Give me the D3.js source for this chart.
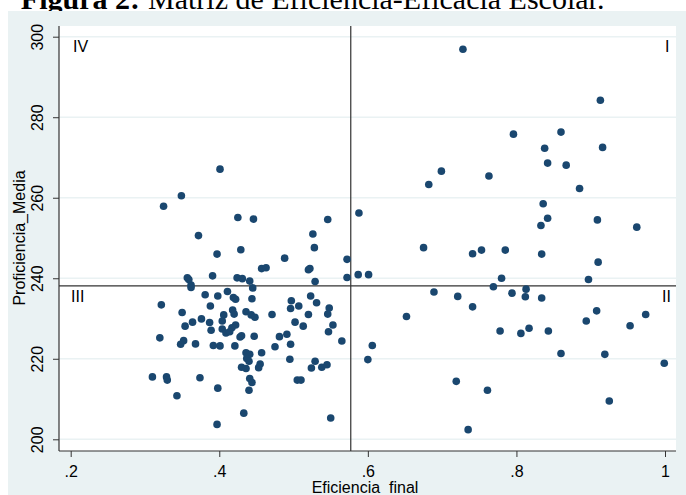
<!DOCTYPE html>
<html>
<head>
<meta charset="utf-8">
<script src="https://cdn.jsdelivr.net/npm/d3@7"></script>
<style>
  html, body { margin: 0; padding: 0; background: #ffffff; }
  svg { display: block; }
</style>
</head>
<body>
<script>
// ---- data ----
const titleBold = "Figura 2:";
const titleRest = "Matriz de Eficiencia-Eficacia Escolar.";
const xLabel = "Eficiencia_final";
const yLabel = "Proficiencia_Media";
const xTicks = [0.2, 0.4, 0.6, 0.8, 1.0];
const xTickLabels = [".2", ".4", ".6", ".8", "1"];
const yTicks = [200, 220, 240, 260, 280, 300];
const quadrantLabels = ["I", "II", "III", "IV"];
const refX = 0.577;
const refY = 238.1;

const eficiencia = [
  0.401,0.349,0.325,0.425,0.446,0.372,0.429,0.397,0.488,0.457,0.463,0.357,0.359,0.391,0.424,0.431,
  0.441,0.362,0.362,0.445,0.381,0.398,0.411,0.419,0.422,0.444,0.322,0.388,0.497,0.496,0.350,0.418,
  0.420,0.406,0.436,0.443,0.448,0.471,0.376,0.364,0.387,0.404,0.354,0.422,0.417,0.389,0.404,0.409,
  0.414,0.320,0.428,0.430,0.447,0.481,0.491,0.352,0.348,0.368,0.392,0.401,0.421,0.475,0.496,0.436,
  0.441,0.437,0.440,0.430,0.436,0.457,0.455,0.453,0.495,0.310,0.329,0.330,0.374,0.441,0.444,0.440,
  0.398,0.343,0.433,0.397,
  0.588,0.546,0.526,0.528,0.572,0.520,0.522,0.572,0.587,0.601,0.529,0.523,0.531,0.507,0.548,0.546,
  0.520,0.502,0.513,0.553,0.547,0.565,0.606,0.529,0.524,0.538,0.545,0.600,0.505,0.510,0.550,
  0.728,0.913,0.796,0.860,0.838,0.916,0.842,0.867,0.699,0.763,0.682,0.885,0.836,0.842,0.833,0.909,
  0.962,0.675,0.741,0.753,0.785,0.834,0.910,0.780,0.897,0.769,0.689,0.721,0.794,0.813,0.812,0.834,
  0.741,0.652,0.908,0.894,0.974,0.953,0.778,0.806,0.817,0.843,0.860,0.919,0.999,0.719,0.761,0.925,
  0.735
];
const proficiencia = [
  267.1,260.5,257.9,255.1,254.7,250.6,247.1,246.0,245.0,242.4,242.6,240.1,239.7,240.6,240.1,239.9,
  239.3,238.3,237.7,237.6,235.9,235.6,236.7,235.2,234.8,234.9,233.4,233.1,234.4,232.5,231.5,232.1,
  231.1,230.9,231.7,230.9,230.3,231.0,229.9,229.1,229.0,229.4,228.1,228.4,227.7,227.1,227.4,226.4,
  226.7,225.2,225.4,225.7,225.6,225.5,226.1,224.5,223.6,223.7,223.3,223.2,223.2,223.0,223.6,221.5,
  221.1,220.1,219.4,217.9,217.6,221.5,218.7,217.8,219.9,215.5,215.5,214.7,215.3,215.1,214.1,212.2,
  212.7,210.8,206.5,203.7,
  256.2,254.6,251.0,247.6,244.7,242.1,242.4,240.2,240.9,240.9,239.2,235.6,233.9,233.1,232.6,231.1,
  231.0,229.1,228.1,228.4,226.7,224.4,223.3,219.4,217.7,217.9,218.5,219.8,214.7,214.7,205.3,
  296.9,284.2,275.8,276.3,272.3,272.5,268.6,268.1,266.6,265.4,263.3,262.3,258.5,254.9,253.1,254.5,
  252.7,247.6,246.1,247.0,247.0,246.0,244.0,240.0,239.7,237.9,236.6,235.5,236.3,237.3,235.4,235.1,
  232.9,230.5,231.9,229.4,231.0,228.2,226.9,226.3,227.6,226.9,221.3,221.1,218.9,214.4,212.2,209.5,
  202.4
];

// ---- layout ----
const W = 686, H = 495;
const plot = { left: 59, right: 676, top: 26, bottom: 451 };
const pointColor = "#1a476f";
const bgColor = "#eaf2f3";
const axisColor = "#333333";

const svg = d3.select("body").append("svg")
  .attr("width", W).attr("height", H);

// title (partially outside view, above chart image)
svg.append("text")
  .attr("x", 140).attr("y", 9)
  .attr("text-anchor", "end")
  .attr("font-family", "'Liberation Serif', 'Times New Roman', serif")
  .attr("font-weight", "bold")
  .attr("font-size", 30)
  .attr("fill", "#000")
  .text(titleBold);
svg.append("text")
  .attr("x", 148).attr("y", 9)
  .attr("font-family", "'Liberation Serif', 'Times New Roman', serif")
  .attr("font-size", 30)
  .attr("fill", "#000")
  .text(titleRest);

// chart background
svg.append("rect")
  .attr("x", 8).attr("y", 11)
  .attr("width", W - 8).attr("height", H - 11)
  .attr("fill", bgColor);

// plot area
svg.append("rect")
  .attr("x", plot.left).attr("y", plot.top)
  .attr("width", plot.right - plot.left).attr("height", plot.bottom - plot.top)
  .attr("fill", "#ffffff");

const x = d3.scaleLinear().domain([0.2, 1.0]).range([70.7, 665]);
const y = d3.scaleLinear().domain([200, 300]).range([439.3, 36.7]);

// gridlines
svg.append("g")
  .selectAll("line").data(yTicks).join("line")
  .attr("x1", plot.left).attr("x2", plot.right)
  .attr("y1", d => y(d)).attr("y2", d => y(d))
  .attr("stroke", bgColor).attr("stroke-width", 1.5);

// reference lines
svg.append("line")
  .attr("x1", x(refX)).attr("x2", x(refX))
  .attr("y1", plot.top).attr("y2", plot.bottom)
  .attr("stroke", axisColor).attr("stroke-width", 1.2);
svg.append("line")
  .attr("x1", plot.left).attr("x2", plot.right)
  .attr("y1", y(refY)).attr("y2", y(refY))
  .attr("stroke", axisColor).attr("stroke-width", 1.2);

// points
svg.append("g")
  .selectAll("circle").data(eficiencia.map((v, i) => [v, proficiencia[i]])).join("circle")
  .attr("cx", d => x(d[0]))
  .attr("cy", d => y(d[1]))
  .attr("r", 3.8)
  .attr("fill", pointColor);

// axes
const fontSans = "'Liberation Sans', Arial, sans-serif";
const xAxis = d3.axisBottom(x).tickValues(xTicks)
  .tickFormat((d, i) => xTickLabels[i]).tickSize(6).tickSizeOuter(0);
const gx = svg.append("g").attr("transform", `translate(0,${plot.bottom})`).call(xAxis);
gx.select(".domain").attr("d", `M${plot.left},0H${plot.right}`).attr("stroke", axisColor).attr("stroke-width", 1.2);
gx.selectAll(".tick line").attr("stroke", axisColor).attr("stroke-width", 1);
gx.selectAll(".tick text")
  .attr("font-family", fontSans).attr("font-size", 16).attr("fill", "#000")
  .attr("dy", null).attr("y", 26);

const yAxis = d3.axisLeft(y).tickValues(yTicks).tickSize(6).tickSizeOuter(0);
const gy = svg.append("g").attr("transform", `translate(${plot.left},0)`).call(yAxis);
gy.select(".domain").attr("d", `M0,${plot.top}V${plot.bottom}`).attr("stroke", axisColor).attr("stroke-width", 1.2);
gy.selectAll(".tick line").attr("stroke", axisColor).attr("stroke-width", 1);
gy.selectAll(".tick text")
  .attr("font-family", fontSans).attr("font-size", 16).attr("fill", "#000")
  .attr("x", null).attr("dy", null)
  .attr("text-anchor", "middle")
  .attr("transform", "translate(-16,0) rotate(-90)");

// axis titles
svg.append("text")
  .attr("x", 365).attr("y", 493)
  .attr("text-anchor", "middle")
  .attr("font-family", fontSans).attr("font-size", 16).attr("fill", "#000")
  .text(xLabel);
svg.append("text")
  .attr("transform", "translate(25,238) rotate(-90)")
  .attr("text-anchor", "middle")
  .attr("font-family", fontSans).attr("font-size", 16).attr("fill", "#000")
  .text(yLabel);

// quadrant labels
const qPos = [
  { t: quadrantLabels[0], x: 665, y: 52 },
  { t: quadrantLabels[1], x: 662, y: 302 },
  { t: quadrantLabels[2], x: 71, y: 302 },
  { t: quadrantLabels[3], x: 73, y: 52 }
];
svg.append("g").selectAll("text").data(qPos).join("text")
  .attr("x", d => d.x).attr("y", d => d.y)
  .attr("font-family", fontSans).attr("font-size", 16).attr("fill", "#000")
  .text(d => d.t);
</script>
</body>
</html>
